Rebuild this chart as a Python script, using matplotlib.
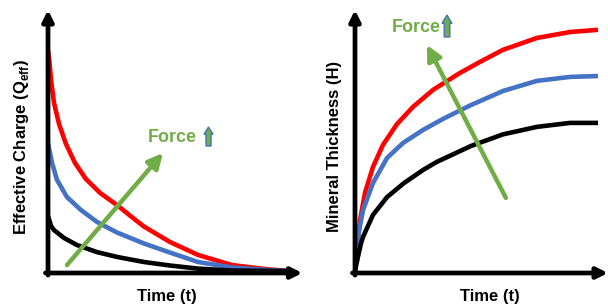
import matplotlib
matplotlib.use("Agg")
import matplotlib.pyplot as plt
from matplotlib.patches import Polygon

plt.rcParams['font.family'] = ['Liberation Sans', 'DejaVu Sans']
plt.rcParams['mathtext.fontset'] = 'custom'
plt.rcParams['mathtext.rm'] = 'Liberation Sans'
plt.rcParams['mathtext.bf'] = 'Liberation Sans:bold'

# ---- data (arbitrary units) ----
charge_red_t = [0.0, 0.06, 0.125, 0.25, 0.46, 0.75, 1.125, 1.58, 2.17, 2.92, 3.46, 4.0, 5.08, 6.25, 7.67, 9.04, 10.0]
charge_red_v = [10.14, 9.59, 8.77, 7.73, 6.77, 5.86, 5.0, 4.27, 3.64, 3.05, 2.57, 2.11, 1.41, 0.82, 0.36, 0.18, 0.09]
charge_blue_t = [0.0, 0.04, 0.17, 0.375, 0.79, 1.375, 2.04, 2.875, 4.0, 5.08, 6.25, 7.67, 9.04, 10.0]
charge_blue_v = [5.91, 5.68, 5.0, 4.23, 3.45, 2.86, 2.32, 1.84, 1.34, 0.93, 0.5, 0.25, 0.14, 0.09]
charge_black_t = [0.0, 0.04, 0.125, 0.25, 0.67, 1.21, 2.04, 2.875, 4.0, 5.08, 6.25, 7.67, 10.0]
charge_black_v = [2.59, 2.45, 2.14, 1.95, 1.59, 1.27, 0.95, 0.73, 0.5, 0.34, 0.2, 0.11, 0.09]

thick_red_t = [0.0, 0.08, 0.21, 0.41, 0.74, 1.15, 1.73, 2.39, 3.21, 4.32, 5.14, 6.09, 7.49, 8.85, 10.0]
thick_red_v = [0.09, 1.18, 2.41, 3.64, 4.82, 5.82, 6.77, 7.55, 8.32, 9.09, 9.59, 10.14, 10.68, 10.95, 11.05]
thick_blue_t = [0.0, 0.12, 0.33, 0.74, 1.32, 1.98, 2.80, 3.62, 4.73, 6.09, 7.49, 8.85, 10.0]
thick_blue_v = [0.09, 1.64, 2.86, 4.09, 5.23, 5.91, 6.5, 7.0, 7.61, 8.27, 8.73, 8.91, 8.95]
thick_black_t = [0.0, 0.12, 0.25, 0.33, 0.74, 1.32, 2.02, 2.80, 3.37, 4.77, 6.09, 7.49, 8.85, 10.0]
thick_black_v = [0.09, 0.73, 1.36, 1.64, 2.64, 3.45, 4.09, 4.68, 5.05, 5.77, 6.3, 6.64, 6.82, 6.82]

RED = '#FF0000'
BLUE = '#4472C4'
GREEN = '#70AD47'

W, H = 608, 306
fig = plt.figure(figsize=(W / 100, H / 100), dpi=100)


def frac_x(px):
    return px / W


def frac_y(py):
    return 1 - py / H


def make_axes(left_px, right_px, top_px, bottom_px):
    ax = fig.add_axes([frac_x(left_px), frac_y(bottom_px),
                       (right_px - left_px) / W, (bottom_px - top_px) / H])
    ax.set_axis_off()
    return ax


def draw_axes_arrows(ax):
    kw = dict(xycoords='axes fraction', textcoords='axes fraction',
              arrowprops=dict(arrowstyle='-|>', lw=3.4, color='black',
                              mutation_scale=16, shrinkA=0, shrinkB=0))
    ax.annotate('', xy=(1, 0), xytext=(-0.01, 0), **kw)
    ax.annotate('', xy=(0, 1), xytext=(0, -0.008), **kw)


def up_icon(x0, x1, y_top, y_bot):
    xm = (x0 + x1) / 2
    sw = (x1 - x0) * 0.28
    hl = (y_bot - y_top) * 0.38
    pts = [(xm, y_top), (x1, y_top + hl), (xm + sw, y_top + hl), (xm + sw, y_bot),
           (xm - sw, y_bot), (xm - sw, y_top + hl), (x0, y_top + hl)]
    poly = Polygon([(frac_x(x), frac_y(y)) for x, y in pts], closed=True,
                   transform=fig.transFigure, facecolor=GREEN, edgecolor=BLUE, lw=1.0)
    fig.add_artist(poly)


def curve(ax, t, v, color):
    ax.plot(t, v, color=color, lw=3.3, solid_capstyle='butt', solid_joinstyle='round')


# ---- left panel ----
axL = make_axes(48, 302.4, 10, 273)
axL.set_xlim(0, 10.6)
axL.set_ylim(0, 11.95)
curve(axL, charge_red_t, charge_red_v, RED)
curve(axL, charge_blue_t, charge_blue_v, BLUE)
curve(axL, charge_black_t, charge_black_v, 'black')
draw_axes_arrows(axL)
axL.annotate('', xy=(4.79, 5.45), xytext=(0.79, 0.36), xycoords='data',
             arrowprops=dict(arrowstyle='-|>', lw=3.2, color=GREEN,
                             mutation_scale=22, shrinkA=0, shrinkB=0))
fig.text(frac_x(148), frac_y(137), 'Force', color=GREEN, fontsize=13,
         fontweight='bold', ha='left', va='center')
up_icon(204, 213, 127, 146)
fig.text(frac_x(22), frac_y(147), r'Effective Charge (Q$_{\mathbf{eff}}$)',
         rotation=90, fontsize=12, fontweight='bold', ha='center', va='center')
fig.text(frac_x(167), frac_y(297), 'Time (t)', fontsize=12, fontweight='bold',
         ha='center', va='center')

# ---- right panel ----
axR = make_axes(355, 608, 10, 273)
axR.set_xlim(0, 253 / 24.3)
axR.set_ylim(0, 11.95)
curve(axR, thick_red_t, thick_red_v, RED)
curve(axR, thick_blue_t, thick_blue_v, BLUE)
curve(axR, thick_black_t, thick_black_v, 'black')
draw_axes_arrows(axR)
axR.annotate('', xy=(2.96, 10.36), xytext=(6.21, 3.41), xycoords='data',
             arrowprops=dict(arrowstyle='-|>', lw=3.2, color=GREEN,
                             mutation_scale=22, shrinkA=0, shrinkB=0))
fig.text(frac_x(392), frac_y(28), 'Force', color=GREEN, fontsize=13,
         fontweight='bold', ha='left', va='center')
up_icon(442, 452, 15, 37)
fig.text(frac_x(334), frac_y(146), 'Mineral Thickness (H)',
         rotation=90, fontsize=12, fontweight='bold', ha='center', va='center')
fig.text(frac_x(490), frac_y(297), 'Time (t)', fontsize=12, fontweight='bold',
         ha='center', va='center')

fig.savefig('out.png', dpi=100)
